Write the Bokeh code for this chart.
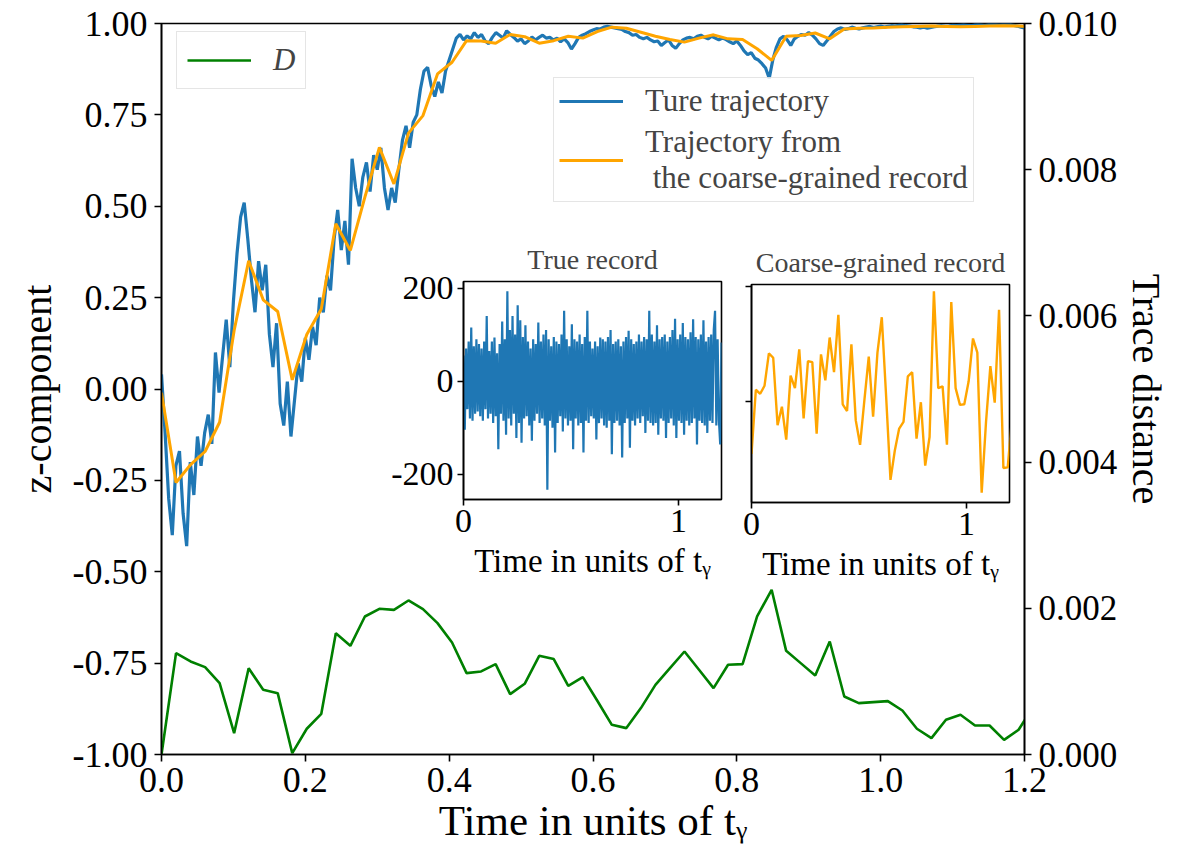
from bokeh.plotting import figure
from bokeh.models import Range1d, LinearAxis, Legend, LegendItem, FixedTicker, NumeralTickFormatter
from bokeh.layouts import column
from bokeh.embed import file_html
from bokeh.resources import INLINE

FONT = "Liberation Serif"

# ---------------- data ----------------
x_ticks = [0.0, 0.2, 0.4, 0.6, 0.8, 1.0, 1.2]
z_ticks = [-1.0, -0.75, -0.5, -0.25, 0.0, 0.25, 0.5, 0.75, 1.0]
d_ticks = [0.0, 0.002, 0.004, 0.006, 0.008, 0.010]

# true trajectory (dense), sampled every 0.005
z_true = [
    0.04, -0.12, -0.30, -0.40, -0.21, -0.17, -0.34, -0.43, -0.20, -0.29,
    -0.13, -0.21, -0.12, -0.07, -0.15, 0.10, -0.01, 0.09, 0.19, 0.06,
    0.24, 0.37, 0.47, 0.51, 0.41, 0.30, 0.21, 0.35, 0.27, 0.34,
    0.15, 0.06, 0.18, -0.04, -0.10, 0.02, -0.13, -0.03, 0.07, 0.02,
    0.14, 0.08, 0.17, 0.12, 0.25, 0.21, 0.31, 0.27, 0.41, 0.49,
    0.38, 0.46, 0.34, 0.63, 0.55, 0.50, 0.58, 0.62, 0.54, 0.64,
    0.60, 0.66, 0.55, 0.49, 0.55, 0.51, 0.60, 0.68, 0.72, 0.66,
    0.73, 0.75, 0.82, 0.87, 0.88, 0.83, 0.80, 0.84, 0.81, 0.87,
    0.90, 0.93, 0.96, 0.97, 0.955, 0.966, 0.958, 0.975, 0.962, 0.970,
    0.952, 0.945, 0.962, 0.975, 0.968, 0.960, 0.980, 0.970, 0.962, 0.952,
    0.958, 0.945, 0.952, 0.963, 0.955, 0.962, 0.968, 0.960, 0.962, 0.955,
    0.960, 0.950, 0.958, 0.948, 0.930, 0.945, 0.962, 0.968, 0.972, 0.978,
    0.982, 0.986, 0.985, 0.990, 0.992, 0.990, 0.988, 0.986, 0.984, 0.978,
    0.975, 0.968, 0.970, 0.962, 0.958, 0.962, 0.955, 0.950, 0.952, 0.940,
    0.948, 0.955, 0.940, 0.932, 0.945, 0.955, 0.960, 0.962, 0.958, 0.965,
    0.968, 0.962, 0.958, 0.965, 0.960, 0.955, 0.960, 0.956, 0.950, 0.945,
    0.952, 0.940, 0.925, 0.915, 0.920, 0.905, 0.900, 0.890, 0.878, 0.850,
    0.900, 0.935, 0.958, 0.965, 0.955, 0.940, 0.958, 0.965, 0.970, 0.968,
    0.975, 0.968, 0.958, 0.945, 0.940, 0.952, 0.965, 0.978, 0.985, 0.988,
    0.984, 0.986, 0.990, 0.987, 0.985, 0.988, 0.990, 0.992, 0.989, 0.991,
    0.993, 0.990, 0.992, 0.994, 0.993, 0.995, 0.996, 0.994, 0.993, 0.991,
    0.990, 0.988, 0.990, 0.987, 0.989, 0.991, 0.993, 0.994, 0.992, 0.993,
    0.995, 0.994, 0.995, 0.996, 0.995, 0.994, 0.996, 0.997, 0.996, 0.995,
    0.997, 0.998, 0.997, 0.996, 0.997, 0.998, 0.997, 0.995, 0.993, 0.990,
    0.988,
]
t_true = [i * 0.005 for i in range(len(z_true))]

# coarse-grained trajectory and trace distance, sampled every 0.0202
z_cg = [
    -0.01, -0.256, -0.207, -0.171, -0.091, 0.160, 0.351, 0.244, 0.212, 0.025,
    0.149, 0.219, 0.452, 0.379, 0.525, 0.661, 0.561, 0.700, 0.748, 0.862,
    0.894, 0.953, 0.952, 0.946, 0.970, 0.964, 0.946, 0.953, 0.965, 0.960,
    0.978, 0.990, 0.987, 0.976, 0.965, 0.956, 0.949, 0.960, 0.969, 0.958,
    0.956, 0.931, 0.899, 0.965, 0.967, 0.974, 0.958, 0.985, 0.987, 0.988,
    0.990, 0.991, 0.992, 0.993, 0.992, 0.991, 0.992, 0.993, 0.994, 0.993,
    0.990,
]
trace_d = [
    0.0, 1.387, 1.273, 1.195, 0.976, 0.292, 1.181, 0.885, 0.839, 0.019,
    0.352, 0.557, 1.660, 1.487, 1.888, 1.993, 1.979, 2.107, 1.989, 1.797,
    1.532, 1.113, 1.136, 1.236, 0.826, 0.967, 1.350, 1.305, 0.939, 1.058,
    0.735, 0.406, 0.361, 0.635, 0.953, 1.181, 1.409, 1.159, 0.908, 1.227,
    1.236, 1.888, 2.253, 1.418, 1.250, 1.081, 1.546, 0.793, 0.703, 0.717,
    0.730, 0.602, 0.352, 0.224, 0.475, 0.543, 0.397, 0.397, 0.201, 0.338,
    0.650,
]
trace_d = [v * 1e-3 for v in trace_d]
t_cg = [round(i * 0.0202, 4) for i in range(len(z_cg))]

# inset records
rec_ticks = [-200, 0, 200]
true_record = [
    55, -104, 70, -60, 85, -80, 115, -85, 75, -70,
    90, -65, 80, -75, 70, -85, 85, -60, 140, -80,
    65, -70, 85, -90, 94, -75, 60, -146, 80, -70,
    128, -85, 90, -115, 193, -80, 110, -95, 140, -70,
    100, -122, 163, -90, 131, -132, 95, -80, 120, -75,
    85, -95, 70, -128, 90, -85, 80, -70, 126, -90,
    85, -80, 100, -95, 110, -233, 90, -85, 75, -100,
    95, -153, 85, -90, 80, -75, 100, -108, 151, -80,
    90, -95, 75, -85, 122, -146, 90, -80, 85, -95,
    100, -90, 80, -153, 95, -85, 151, -90, 85, -75,
    70, -80, 85, -125, 75, -90, 94, -80, 90, -95,
    85, -100, 95, -85, 110, -157, 80, -90, 85, -85,
    90, -95, 75, -164, 85, -90, 95, -80, 108, -143,
    90, -85, 80, -95, 85, -80, 100, -90, 85, -75,
    95, -111, 90, -85, 151, -90, 100, -95, 85, -90,
    120, -115, 90, -80, 95, -85, 100, -122, 85, -90,
    95, -80, 110, -95, 134, -122, 90, -85, 100, -90,
    125, -115, 95, -85, 90, -95, 105, -90, 133, -80,
    95, -136, 90, -85, 100, -90, 131, -95, 85, -111,
    95, -85, 100, -90, 110, 151, -95, 90, -85, -136,
    83,
]
t_record = [i * 0.006 for i in range(len(true_record))]

cg_ticks = [0, 20]
cg_record = [
    -9.06, 2.05, 1.35, 2.75, 8.36, 7.60, -4.09, -0.88, -6.61, 4.50,
    2.34, 9.06, -2.92, 7.02, 6.84, -5.56, 8.19, 3.68, 11.11, 5.09,
    15.03, -0.47, -1.64, 9.94, -3.22, -7.49, 0.29, 7.78, -2.63, 8.48,
    14.62, 0.88, -13.57, -8.48, -4.68, -3.51, 4.39, 5.09, -6.43, -0.12,
    -11.11, -6.14, 19.12, 2.34, 2.63, -7.49, 17.25, 2.34, -0.58, -0.47,
    3.51, 10.94, 8.48, -15.79, -3.51, 6.14, -0.18, 15.91, -11.52, -11.40,
    -2.63,
]

BLUE = "#1f77b4"
ORANGE = "orange"
GREEN = "green"

BL = 161   # common left border
BR = 163   # common right border


def style_axis(ax, tick_size, label_size):
    ax.major_label_text_font = FONT
    ax.major_label_text_font_size = tick_size
    ax.axis_label_text_font = FONT
    ax.axis_label_text_font_size = label_size
    ax.axis_label_text_font_style = "normal"
    ax.axis_line_color = "black"
    ax.axis_line_width = 1.6
    ax.major_tick_line_color = "black"
    ax.major_tick_line_width = 1.6
    ax.major_tick_in = 0
    ax.major_tick_out = 7
    ax.minor_tick_line_color = None
    ax.major_label_text_color = "black"
    ax.axis_label_text_color = "black"


# ---------------- main figure ----------------
p = figure(frame_width=863, frame_height=731,
           min_border_left=BL, min_border_right=BR,
           min_border_top=23, min_border_bottom=91,
           x_range=Range1d(0, 1.2), y_range=Range1d(-1, 1),
           output_backend="svg", toolbar_location=None)
p.extra_y_ranges = {"td": Range1d(0, 0.010)}
p.xgrid.visible = False
p.ygrid.visible = False
p.outline_line_color = "black"
p.outline_line_width = 1.6
p.background_fill_color = "white"
p.border_fill_color = "white"

p.xaxis.ticker = FixedTicker(ticks=x_ticks)
p.xaxis.formatter = NumeralTickFormatter(format="0.0")
p.xaxis.axis_label = "Time in units of tᵧ"
p.yaxis.ticker = FixedTicker(ticks=z_ticks)
p.yaxis.formatter = NumeralTickFormatter(format="0.00")
p.yaxis.axis_label = "z-component"
style_axis(p.xaxis[0], "36px", "43px")
style_axis(p.yaxis[0], "36px", "40px")
p.xaxis.major_label_standoff = 6
p.yaxis.major_label_standoff = 7
p.yaxis.axis_label_standoff = 10
p.xaxis.axis_label_standoff = 2

raxis = LinearAxis(y_range_name="td", ticker=FixedTicker(ticks=d_ticks),
                   formatter=NumeralTickFormatter(format="0.000"),
                   axis_label="Trace distance")
style_axis(raxis, "35px", "40px")
raxis.major_label_standoff = 7
raxis.axis_label_standoff = 4
p.add_layout(raxis, "right")

r_blue = p.line(t_true, z_true, color=BLUE, line_width=3.2)
r_orange = p.line(t_cg, z_cg, color=ORANGE, line_width=3)
r_green = p.line(t_cg, trace_d, color=GREEN, line_width=2.6, y_range_name="td")


def style_legend(leg):
    leg.label_text_font = FONT
    leg.label_text_font_size = "31px"
    leg.label_text_line_height = 1.05
    leg.glyph_width = 64
    leg.glyph_height = 30
    leg.label_standoff = 22
    leg.padding = 5
    leg.spacing = 5
    leg.margin = 0
    leg.border_line_color = "#cccccc"
    leg.border_line_width = 1.5
    leg.background_fill_color = "white"
    leg.background_fill_alpha = 0.8


leg1 = Legend(items=[LegendItem(label="D", renderers=[r_green])], location=(15, 665))
style_legend(leg1)
leg1.padding = 10
leg1.label_text_font_style = "italic"
p.add_layout(leg1)

leg2 = Legend(items=[LegendItem(label="Ture trajectory", renderers=[r_blue]),
                     LegendItem(label="Trajectory from\n the coarse-grained record", renderers=[r_orange])],
              location=(392, 552))
style_legend(leg2)
p.add_layout(leg2)


# ---------------- insets ----------------
def make_inset(title, yr, frame_left, frame_top):
    f = figure(frame_width=258, frame_height=218,
               min_border_left=BL, min_border_right=BR,
               min_border_top=45, min_border_bottom=90,
               x_range=Range1d(0, 1.2), y_range=Range1d(*yr),
               title=title, output_backend="svg", toolbar_location=None)
    f.styles = {"position": "absolute", "left": f"{frame_left - BL}px",
                "top": f"{frame_top - 45}px"}
    f.xgrid.visible = False
    f.ygrid.visible = False
    f.outline_line_color = "black"
    f.outline_line_width = 1.6
    f.background_fill_color = "white"
    f.border_fill_alpha = 0
    f.title.text_font = FONT
    f.title.text_font_size = "28px"
    f.title.text_font_style = "normal"
    f.title.align = "center"
    f.title.standoff = 14
    f.xaxis.ticker = FixedTicker(ticks=[0, 1])
    f.xaxis.formatter = NumeralTickFormatter(format="0")
    f.xaxis.axis_label = "Time in units of tᵧ"
    style_axis(f.xaxis[0], "34px", "33px")
    style_axis(f.yaxis[0], "34px", "33px")
    f.xaxis.major_tick_out = 6
    f.yaxis.major_tick_out = 6
    f.xaxis.major_label_standoff = 4
    f.yaxis.major_label_standoff = 4
    f.xaxis.axis_label_standoff = 8
    return f


ins1 = make_inset("True record", (-254, 214), 463, 279)
ins1.yaxis.ticker = FixedTicker(ticks=rec_ticks)
ins1.yaxis.formatter = NumeralTickFormatter(format="0")
ins1.line(t_record, true_record, color=BLUE, line_width=2.2)

ins2 = make_inset("Coarse-grained record", (-17.5, 20.3), 751, 282)
ins2.yaxis.ticker = FixedTicker(ticks=cg_ticks)
ins2.yaxis.major_label_overrides = {0: "", 20: ""}
ins2.line(t_cg, cg_record, color=ORANGE, line_width=2.4)

layout = column(p, ins1, ins2)

open("out.html", "w").write(file_html(layout, INLINE))
